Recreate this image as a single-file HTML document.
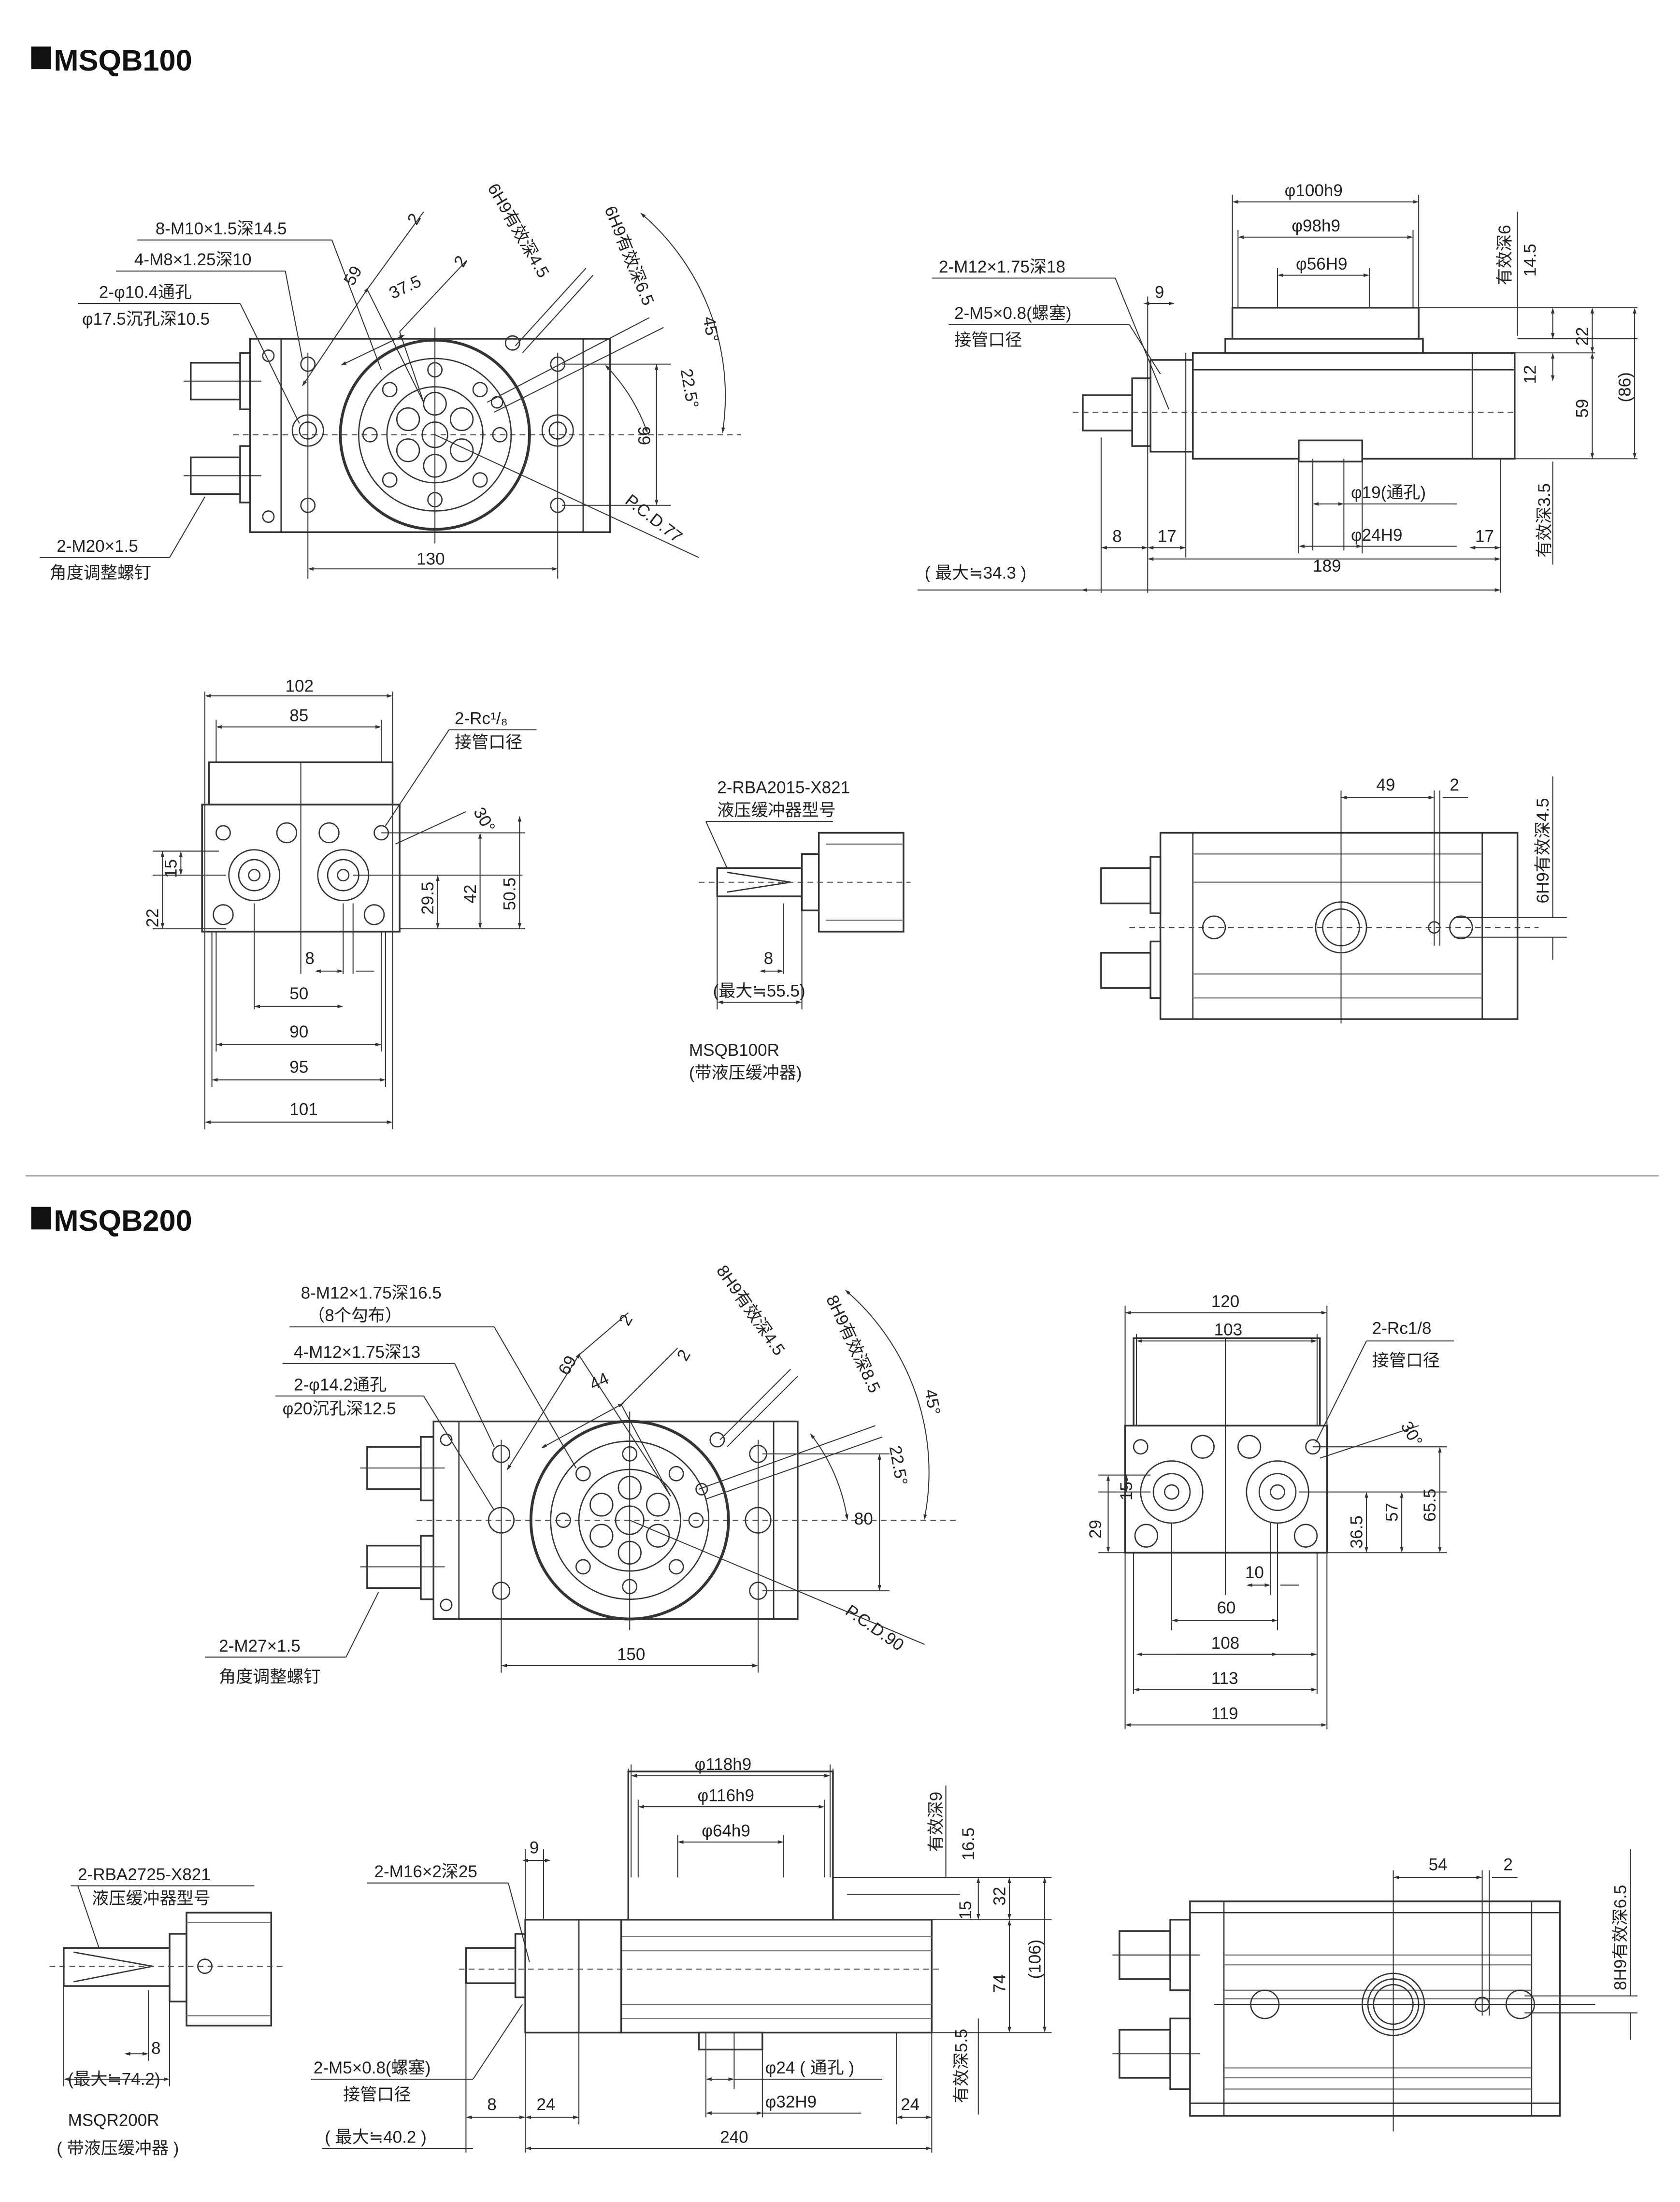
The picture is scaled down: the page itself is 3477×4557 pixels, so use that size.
<!DOCTYPE html>
<html><head><meta charset="utf-8"><style>
html,body{margin:0;padding:0;background:#fff}
svg{display:block}
text{font-family:"Liberation Sans","Noto Sans CJK SC",sans-serif;fill:#222;font-size:12px}
.t{font-size:21px;font-weight:bold;fill:#111}
.l{stroke:#333;stroke-width:0.9;fill:none}
.g{stroke:#777;stroke-width:0.8;fill:none}
.d{stroke:#333;stroke-width:0.7;fill:none;marker-start:url(#a);marker-end:url(#a)}
.e{stroke:#333;stroke-width:0.7;fill:none}
.c{stroke:#444;stroke-width:0.7;fill:none;stroke-dasharray:4 3}
.b{stroke:#333;stroke-width:1.2;fill:#fff}
</style></head><body>
<svg width="3477" height="4557" viewBox="0 0 1190 1560" xmlns="http://www.w3.org/2000/svg">
<defs><marker id="a" viewBox="0 0 10 10" refX="5" refY="5" markerWidth="6" markerHeight="6" orient="auto-start-reverse"><path d="M0,2 L10,5 L0,8 z" fill="#333"/></marker></defs>

<!-- ===== MSQB100 ===== -->
<rect x="22" y="33" width="14" height="16" fill="#111"/>
<text class="t" x="38" y="50">MSQB100</text>

<!-- front view -->
<rect class="b" x="177" y="240" width="255" height="137"/>
<line class="l" x1="199" y1="240" x2="199" y2="377"/><line class="l" x1="413" y1="240" x2="413" y2="377"/>
<rect class="b" x="135" y="257" width="35" height="26"/><rect class="b" x="170" y="250" width="7" height="40"/>
<rect class="b" x="135" y="324" width="35" height="26"/><rect class="b" x="170" y="316" width="7" height="40"/>
<line class="e" x1="130" y1="270" x2="185" y2="270"/><line class="e" x1="130" y1="337" x2="185" y2="337"/>
<circle class="l" cx="190" cy="252" r="4"/><circle class="l" cx="190" cy="366" r="4"/>
<line class="c" x1="165" y1="308" x2="525" y2="308"/>
<circle class="l" cx="308" cy="308" r="67" style="stroke-width:2"/>
<circle class="l" cx="308" cy="308" r="54"/>
<circle class="l" cx="308" cy="308" r="34"/>
<circle class="l" cx="308" cy="308" r="9"/>
<g class="l">
<circle cx="308" cy="286" r="8"/><circle cx="308" cy="330" r="8"/><circle cx="289" cy="297" r="8"/><circle cx="327" cy="297" r="8"/><circle cx="289" cy="319" r="8"/><circle cx="327" cy="319" r="8"/>
<circle cx="308" cy="262" r="5"/><circle cx="308" cy="354" r="5"/><circle cx="262" cy="308" r="5"/><circle cx="354" cy="308" r="5"/>
<circle cx="276" cy="276" r="5"/><circle cx="340" cy="276" r="5"/><circle cx="276" cy="340" r="5"/><circle cx="340" cy="340" r="5"/>
<circle cx="218" cy="258" r="5"/><circle cx="218" cy="358" r="5"/><circle cx="395" cy="258" r="5"/><circle cx="395" cy="358" r="5"/>
<circle cx="218" cy="305" r="11"/><circle cx="218" cy="305" r="6"/><circle cx="395" cy="305" r="11"/><circle cx="395" cy="305" r="6"/>
<circle cx="363" cy="243" r="5"/><circle cx="352" cy="285" r="4"/>
</g>
<line class="e" x1="218" y1="250" x2="218" y2="410"/><line class="e" x1="395" y1="250" x2="395" y2="410"/>
<line class="e" x1="308" y1="232" x2="308" y2="385"/>
<line class="d" x1="220" y1="403" x2="393" y2="403"/><text x="295" y="400">130</text>
<line class="e" x1="398" y1="258" x2="475" y2="258"/><line class="e" x1="398" y1="358" x2="475" y2="358"/>
<line class="d" x1="465" y1="260" x2="465" y2="356"/><text x="0" y="0" transform="translate(452,302) rotate(90)">99</text>
<line class="e" x1="308" y1="308" x2="495" y2="395"/><text x="0" y="0" transform="translate(442,356) rotate(38)">P.C.D.77</text>
<path class="d" d="M455,152 A170,170 0 0 1 512,305"/><text x="0" y="0" transform="translate(498,225) rotate(80)">45°</text>
<path class="d" d="M430,260 A130,130 0 0 1 458,305"/><text x="0" y="0" transform="translate(482,262) rotate(80)">22.5°</text>
<line class="e" x1="345" y1="285" x2="460" y2="225"/><line class="e" x1="350" y1="292" x2="470" y2="232"/>
<line class="e" x1="365" y1="245" x2="415" y2="190"/><line class="e" x1="370" y1="250" x2="420" y2="195"/>
<text x="0" y="0" transform="translate(345,133) rotate(60)">6H9有效深4.5</text>
<text x="0" y="0" transform="translate(428,148) rotate(68)">6H9有效深6.5</text>
<line class="d" x1="215" y1="272" x2="260" y2="205"/><text x="0" y="0" transform="translate(250,203) rotate(-60)">59</text>
<line class="d" x1="243" y1="258" x2="285" y2="238"/><text x="0" y="0" transform="translate(278,212) rotate(-25)">37.5</text>
<line class="e" x1="260" y1="205" x2="300" y2="285"/><line class="e" x1="283" y1="235" x2="300" y2="285"/>
<text x="0" y="0" transform="translate(295,160) rotate(-60)">2</text><text x="0" y="0" transform="translate(328,190) rotate(-60)">2</text>
<line class="e" x1="260" y1="205" x2="300" y2="150"/><line class="e" x1="283" y1="235" x2="330" y2="185"/>
<text x="110" y="166">8-M10×1.5深14.5</text><line class="e" x1="97" y1="170" x2="235" y2="170"/><line class="e" x1="235" y1="170" x2="270" y2="262"/>
<text x="95" y="188">4-M8×1.25深10</text><line class="e" x1="82" y1="192" x2="202" y2="192"/><line class="e" x1="202" y1="192" x2="214" y2="254"/>
<text x="70" y="211">2-φ10.4通孔</text><line class="e" x1="55" y1="215" x2="170" y2="215"/><line class="e" x1="170" y1="215" x2="212" y2="300"/>
<text x="58" y="230">φ17.5沉孔深10.5</text>
<text x="40" y="391">2-M20×1.5</text><line class="e" x1="28" y1="395" x2="120" y2="395"/><line class="e" x1="120" y1="395" x2="145" y2="352"/>
<text x="35" y="410">角度调整螺钉</text>

<!-- side view top right -->
<rect class="b" x="845" y="250" width="228" height="75"/>
<line class="l" x1="845" y1="262" x2="1073" y2="262"/><line class="l" x1="1043" y1="250" x2="1043" y2="325"/>
<rect class="b" x="873" y="218" width="132" height="22"/><rect class="b" x="868" y="240" width="140" height="10"/>
<rect class="b" x="815" y="255" width="30" height="65"/>
<rect class="b" x="767" y="280" width="35" height="25"/><rect class="b" x="802" y="268" width="13" height="48"/>
<rect class="b" x="920" y="312" width="45" height="15"/>
<line class="c" x1="760" y1="292" x2="1075" y2="292"/>
<line class="e" x1="873" y1="138" x2="873" y2="218"/><line class="e" x1="1005" y1="138" x2="1005" y2="218"/>
<line class="d" x1="875" y1="143" x2="1003" y2="143"/><text x="910" y="139">φ100h9</text>
<line class="e" x1="877" y1="163" x2="877" y2="218"/><line class="e" x1="1001" y1="163" x2="1001" y2="218"/>
<line class="d" x1="879" y1="168" x2="999" y2="168"/><text x="915" y="164">φ98h9</text>
<line class="e" x1="905" y1="190" x2="905" y2="218"/><line class="e" x1="970" y1="190" x2="970" y2="218"/>
<line class="d" x1="907" y1="195" x2="968" y2="195"/><text x="918" y="191">φ56H9</text>
<text x="665" y="193">2-M12×1.75深18</text><line class="e" x1="660" y1="197" x2="790" y2="197"/><line class="e" x1="790" y1="197" x2="828" y2="290"/>
<text x="676" y="226">2-M5×0.8(螺塞)</text><line class="e" x1="672" y1="230" x2="800" y2="230"/><line class="e" x1="800" y1="230" x2="822" y2="265"/>
<text x="676" y="245">接管口径</text>
<text x="818" y="211">9</text><line class="d" x1="812" y1="215" x2="830" y2="215"/>
<line class="e" x1="813" y1="210" x2="813" y2="420"/><line class="e" x1="840" y1="250" x2="840" y2="395"/>
<line class="e" x1="780" y1="310" x2="780" y2="420"/><line class="e" x1="1063" y1="325" x2="1063" y2="420"/>
<line class="d" x1="782" y1="388" x2="811" y2="388"/><text x="788" y="384">8</text>
<line class="d" x1="815" y1="388" x2="838" y2="388"/><text x="820" y="384">17</text>
<line class="d" x1="1043" y1="388" x2="1061" y2="388"/><text x="1045" y="384">17</text>
<line class="d" x1="815" y1="396" x2="1061" y2="396"/><text x="930" y="405">189</text>
<line class="d" x1="768" y1="418" x2="1061" y2="418"/><text x="655" y="410">( 最大≒34.3 )</text><line class="e" x1="650" y1="418" x2="770" y2="418"/>
<line class="e" x1="930" y1="325" x2="930" y2="390"/><line class="e" x1="952" y1="325" x2="952" y2="390"/>
<line class="d" x1="932" y1="357" x2="950" y2="357"/><text x="957" y="353">φ19(通孔)</text><line class="e" x1="952" y1="357" x2="1032" y2="357"/>
<line class="e" x1="920" y1="327" x2="920" y2="392"/><line class="e" x1="965" y1="327" x2="965" y2="392"/>
<line class="d" x1="922" y1="387" x2="963" y2="387"/><text x="957" y="383">φ24H9</text><line class="e" x1="963" y1="387" x2="1032" y2="387"/>
<line class="e" x1="1005" y1="218" x2="1160" y2="218"/><line class="e" x1="1075" y1="240" x2="1160" y2="240"/>
<line class="e" x1="1073" y1="250" x2="1130" y2="250"/><line class="e" x1="1073" y1="325" x2="1160" y2="325"/>
<line class="d" x1="1100" y1="220" x2="1100" y2="238"/><text x="0" y="0" transform="translate(1088,196) rotate(-90)">14.5</text>
<text x="0" y="0" transform="translate(1070,202) rotate(-90)">有效深6</text><line class="e" x1="1075" y1="150" x2="1075" y2="238"/>
<line class="d" x1="1128" y1="220" x2="1128" y2="248"/><text x="0" y="0" transform="translate(1125,245) rotate(-90)">22</text>
<line class="d" x1="1100" y1="252" x2="1100" y2="268"/><text x="0" y="0" transform="translate(1088,272) rotate(-90)">12</text>
<line class="d" x1="1128" y1="252" x2="1128" y2="323"/><text x="0" y="0" transform="translate(1125,296) rotate(-90)">59</text>
<line class="d" x1="1158" y1="220" x2="1158" y2="323"/><text x="0" y="0" transform="translate(1155,285) rotate(-90)">(86)</text>
<text x="0" y="0" transform="translate(1098,395) rotate(-90)">有效深3.5</text><line class="e" x1="1100" y1="327" x2="1100" y2="400"/>

<!-- left end view 100 -->
<rect class="b" x="148" y="540" width="130" height="30"/>
<rect class="b" x="143" y="570" width="140" height="90"/>
<line class="e" x1="145" y1="490" x2="145" y2="800"/><line class="e" x1="278" y1="490" x2="278" y2="800"/>
<line class="d" x1="147" y1="493" x2="276" y2="493"/><text x="202" y="490">102</text>
<line class="e" x1="153" y1="510" x2="153" y2="540"/><line class="e" x1="270" y1="510" x2="270" y2="540"/>
<line class="d" x1="155" y1="515" x2="268" y2="515"/><text x="205" y="511">85</text>
<g class="l"><circle cx="180" cy="620" r="18"/><circle cx="180" cy="620" r="11"/><circle cx="180" cy="620" r="4"/>
<circle cx="243" cy="620" r="18"/><circle cx="243" cy="620" r="11"/><circle cx="243" cy="620" r="4"/>
<circle cx="158" cy="590" r="5"/><circle cx="270" cy="590" r="5"/><circle cx="158" cy="648" r="7"/><circle cx="265" cy="648" r="7"/>
<circle cx="203" cy="590" r="7"/><circle cx="233" cy="590" r="7"/></g>
<line class="e" x1="213" y1="540" x2="213" y2="690"/>
<line class="e" x1="180" y1="640" x2="180" y2="715"/><line class="e" x1="243" y1="640" x2="243" y2="690"/><line class="e" x1="250" y1="640" x2="250" y2="690"/>
<line class="e" x1="153" y1="660" x2="153" y2="745"/><line class="e" x1="270" y1="660" x2="270" y2="745"/><line class="e" x1="150" y1="660" x2="150" y2="770"/><line class="e" x1="273" y1="660" x2="273" y2="770"/>
<line class="d" x1="225" y1="688" x2="241" y2="688"/><line class="e" x1="252" y1="688" x2="265" y2="688"/><text x="216" y="683">8</text>
<line class="d" x1="182" y1="713" x2="241" y2="713"/><text x="205" y="708">50</text>
<line class="d" x1="155" y1="740" x2="268" y2="740"/><text x="205" y="735">90</text>
<line class="d" x1="152" y1="765" x2="271" y2="765"/><text x="205" y="760">95</text>
<line class="d" x1="147" y1="795" x2="276" y2="795"/><text x="205" y="790">101</text>
<text x="322" y="513">2-Rc¹/₈</text><line class="e" x1="318" y1="517" x2="380" y2="517"/><line class="e" x1="318" y1="517" x2="273" y2="585"/><text x="322" y="530">接管口径</text>
<line class="e" x1="108" y1="603" x2="155" y2="603"/><line class="e" x1="108" y1="620" x2="160" y2="620"/><line class="e" x1="108" y1="658" x2="160" y2="658"/>
<line class="d" x1="128" y1="605" x2="128" y2="618"/><text x="0" y="0" transform="translate(125,622) rotate(-90)">15</text>
<line class="d" x1="115" y1="605" x2="115" y2="656"/><text x="0" y="0" transform="translate(112,657) rotate(-90)">22</text>
<line class="e" x1="250" y1="620" x2="370" y2="620"/><line class="e" x1="270" y1="590" x2="372" y2="590"/><line class="e" x1="283" y1="658" x2="372" y2="658"/>
<line class="d" x1="310" y1="622" x2="310" y2="656"/><text x="0" y="0" transform="translate(307,648) rotate(-90)">29.5</text>
<line class="d" x1="340" y1="592" x2="340" y2="656"/><text x="0" y="0" transform="translate(337,640) rotate(-90)">42</text>
<line class="d" x1="368" y1="580" x2="368" y2="656"/><text x="0" y="0" transform="translate(365,645) rotate(-90)">50.5</text>
<line class="e" x1="280" y1="598" x2="330" y2="575"/><text x="0" y="0" transform="translate(335,575) rotate(60)">30°</text>

<!-- RBA view 100 -->
<text x="508" y="562">2-RBA2015-X821</text><text x="508" y="578">液压缓冲器型号</text>
<line class="e" x1="500" y1="582" x2="590" y2="582"/><line class="e" x1="500" y1="582" x2="515" y2="615"/>
<rect class="b" x="508" y="615" width="60" height="20"/><path class="l" d="M515,618 L560,625 L515,632"/>
<rect class="b" x="568" y="605" width="12" height="40"/><rect class="b" x="580" y="590" width="60" height="70"/>
<line class="g" x1="585" y1="598" x2="640" y2="598"/><line class="g" x1="585" y1="652" x2="640" y2="652"/>
<line class="c" x1="495" y1="625" x2="645" y2="625"/>
<line class="e" x1="508" y1="635" x2="508" y2="715"/><line class="e" x1="568" y1="645" x2="568" y2="715"/><line class="e" x1="555" y1="640" x2="555" y2="690"/>
<line class="d" x1="540" y1="688" x2="553" y2="688"/><text x="541" y="683">8</text>
<line class="d" x1="510" y1="710" x2="566" y2="710"/><text x="505" y="706">(最大≒55.5)</text>
<text x="488" y="748">MSQB100R</text><text x="488" y="764">(带液压缓冲器)</text>

<!-- bottom view 100 -->
<rect class="b" x="822" y="590" width="253" height="132"/>
<line class="l" x1="845" y1="590" x2="845" y2="722"/><line class="l" x1="1050" y1="590" x2="1050" y2="722"/>
<g class="g"><line x1="845" y1="605" x2="1050" y2="605"/><line x1="845" y1="625" x2="1050" y2="625"/><line x1="845" y1="690" x2="1050" y2="690"/><line x1="845" y1="707" x2="1050" y2="707"/></g>
<rect class="b" x="780" y="615" width="35" height="25"/><rect class="b" x="815" y="607" width="7" height="40"/>
<rect class="b" x="780" y="675" width="35" height="25"/><rect class="b" x="815" y="667" width="7" height="40"/>
<line class="c" x1="800" y1="657" x2="1090" y2="657"/>
<g class="l"><circle cx="950" cy="657" r="18"/><circle cx="950" cy="657" r="13"/><circle cx="860" cy="657" r="8"/><circle cx="1035" cy="657" r="8"/><circle cx="1016" cy="657" r="4"/></g>
<line class="e" x1="950" y1="560" x2="950" y2="725"/><line class="e" x1="1016" y1="560" x2="1016" y2="670"/><line class="e" x1="1020" y1="560" x2="1020" y2="670"/>
<line class="d" x1="952" y1="565" x2="1014" y2="565"/><text x="975" y="560">49</text><line class="e" x1="1022" y1="565" x2="1040" y2="565"/><text x="1027" y="560">2</text>
<line class="e" x1="1030" y1="650" x2="1110" y2="650"/><line class="e" x1="1030" y1="664" x2="1110" y2="664"/>
<line class="e" x1="1100" y1="550" x2="1100" y2="650"/><line class="e" x1="1100" y1="664" x2="1100" y2="680"/>
<text x="0" y="0" transform="translate(1097,640) rotate(-90)">6H9有效深4.5</text>

<line x1="18" y1="833" x2="1175" y2="833" stroke="#aaa" stroke-width="1"/>

<!-- ===== MSQB200 ===== -->
<rect x="22" y="855" width="14" height="16" fill="#111"/>
<text class="t" x="38" y="872">MSQB200</text>

<rect class="b" x="307" y="1007" width="258" height="140"/>
<line class="l" x1="325" y1="1007" x2="325" y2="1147"/><line class="l" x1="548" y1="1007" x2="548" y2="1147"/>
<rect class="b" x="260" y="1025" width="38" height="30"/><rect class="b" x="298" y="1018" width="9" height="45"/>
<rect class="b" x="260" y="1095" width="38" height="30"/><rect class="b" x="298" y="1088" width="9" height="45"/>
<line class="e" x1="255" y1="1040" x2="315" y2="1040"/><line class="e" x1="255" y1="1110" x2="315" y2="1110"/>
<circle class="l" cx="316" cy="1020" r="4"/><circle class="l" cx="316" cy="1137" r="4"/>
<line class="c" x1="295" y1="1077" x2="680" y2="1077"/>
<circle class="l" cx="446" cy="1077" r="70" style="stroke-width:2"/>
<circle class="l" cx="446" cy="1077" r="56"/><circle class="l" cx="446" cy="1077" r="36"/><circle class="l" cx="446" cy="1077" r="10"/>
<g class="l">
<circle cx="446" cy="1054" r="8"/><circle cx="446" cy="1100" r="8"/><circle cx="426" cy="1066" r="8"/><circle cx="466" cy="1066" r="8"/><circle cx="426" cy="1088" r="8"/><circle cx="466" cy="1088" r="8"/>
<circle cx="446" cy="1030" r="5"/><circle cx="446" cy="1124" r="5"/><circle cx="399" cy="1077" r="5"/><circle cx="493" cy="1077" r="5"/>
<circle cx="413" cy="1044" r="5"/><circle cx="479" cy="1044" r="5"/><circle cx="413" cy="1110" r="5"/><circle cx="479" cy="1110" r="5"/>
<circle cx="355" cy="1030" r="6"/><circle cx="355" cy="1127" r="6"/><circle cx="537" cy="1030" r="6"/><circle cx="537" cy="1127" r="6"/>
<circle cx="355" cy="1077" r="9"/><circle cx="537" cy="1077" r="9"/><circle cx="508" cy="1020" r="5"/><circle cx="497" cy="1055" r="4"/>
</g>
<line class="e" x1="355" y1="1020" x2="355" y2="1185"/><line class="e" x1="537" y1="1020" x2="537" y2="1185"/><line class="e" x1="446" y1="1000" x2="446" y2="1155"/>
<line class="d" x1="357" y1="1180" x2="535" y2="1180"/><text x="437" y="1176">150</text>
<line class="e" x1="540" y1="1030" x2="630" y2="1030"/><line class="e" x1="540" y1="1127" x2="630" y2="1127"/>
<line class="d" x1="623" y1="1032" x2="623" y2="1125"/><text x="605" y="1080">80</text>
<line class="e" x1="446" y1="1077" x2="655" y2="1165"/><text x="0" y="0" transform="translate(598,1143) rotate(35)">P.C.D.90</text>
<path class="d" d="M600,915 A170,170 0 0 1 655,1075"/><text x="0" y="0" transform="translate(655,985) rotate(80)">45°</text>
<path class="d" d="M575,1017 A130,130 0 0 1 600,1075"/><text x="0" y="0" transform="translate(630,1025) rotate(80)">22.5°</text>
<line class="e" x1="495" y1="1055" x2="620" y2="1010"/><line class="e" x1="500" y1="1062" x2="625" y2="1018"/>
<line class="e" x1="510" y1="1020" x2="560" y2="970"/><line class="e" x1="515" y1="1025" x2="565" y2="975"/>
<text x="0" y="0" transform="translate(507,900) rotate(55)">8H9有效深4.5</text>
<text x="0" y="0" transform="translate(585,920) rotate(65)">8H9有效深8.5</text>
<line class="d" x1="360" y1="1040" x2="410" y2="960"/><text x="0" y="0" transform="translate(402,975) rotate(-60)">69</text>
<line class="d" x1="385" y1="1025" x2="440" y2="995"/><text x="0" y="0" transform="translate(420,985) rotate(-25)">44</text>
<line class="e" x1="410" y1="960" x2="475" y2="1060"/><line class="e" x1="440" y1="995" x2="475" y2="1060"/>
<line class="e" x1="410" y1="960" x2="445" y2="930"/><line class="e" x1="440" y1="995" x2="480" y2="955"/>
<text x="0" y="0" transform="translate(445,940) rotate(-60)">2</text><text x="0" y="0" transform="translate(486,965) rotate(-60)">2</text>
<text x="213" y="920">8-M12×1.75深16.5</text><text x="218" y="936">（8个勾布）</text><line class="e" x1="205" y1="940" x2="350" y2="940"/><line class="e" x1="350" y1="940" x2="408" y2="1040"/>
<text x="208" y="962">4-M12×1.75深13</text><line class="e" x1="200" y1="966" x2="322" y2="966"/><line class="e" x1="322" y1="966" x2="350" y2="1025"/>
<text x="208" y="985">2-φ14.2通孔</text><line class="e" x1="195" y1="989" x2="300" y2="989"/><line class="e" x1="300" y1="989" x2="350" y2="1070"/>
<text x="200" y="1002">φ20沉孔深12.5</text>
<text x="155" y="1170">2-M27×1.5</text><line class="e" x1="145" y1="1174" x2="245" y2="1174"/><line class="e" x1="245" y1="1174" x2="268" y2="1128"/>
<text x="155" y="1192">角度调整螺钉</text>

<!-- end view 200 -->
<rect class="b" x="803" y="948" width="132" height="62"/><rect class="b" x="797" y="1010" width="143" height="90"/>
<line class="e" x1="797" y1="925" x2="797" y2="1225"/><line class="e" x1="940" y1="925" x2="940" y2="1225"/>
<line class="d" x1="799" y1="930" x2="938" y2="930"/><text x="858" y="926">120</text>
<line class="e" x1="805" y1="945" x2="805" y2="1010"/><line class="e" x1="933" y1="945" x2="933" y2="1010"/>
<line class="d" x1="807" y1="950" x2="931" y2="950"/><text x="860" y="946">103</text>
<g class="l"><circle cx="830" cy="1057" r="22"/><circle cx="830" cy="1057" r="13"/><circle cx="830" cy="1057" r="5"/>
<circle cx="905" cy="1057" r="22"/><circle cx="905" cy="1057" r="13"/><circle cx="905" cy="1057" r="5"/>
<circle cx="808" cy="1025" r="5"/><circle cx="930" cy="1025" r="5"/><circle cx="812" cy="1088" r="8"/><circle cx="925" cy="1088" r="8"/>
<circle cx="852" cy="1025" r="8"/><circle cx="885" cy="1025" r="8"/></g>
<line class="e" x1="868" y1="948" x2="868" y2="1130"/>
<line class="e" x1="830" y1="1079" x2="830" y2="1155"/><line class="e" x1="900" y1="1079" x2="900" y2="1130"/><line class="e" x1="905" y1="1079" x2="905" y2="1155"/>
<line class="d" x1="885" y1="1123" x2="898" y2="1123"/><line class="e" x1="907" y1="1123" x2="920" y2="1123"/><text x="882" y="1118">10</text>
<line class="d" x1="832" y1="1148" x2="903" y2="1148"/><text x="862" y="1143">60</text>
<line class="e" x1="803" y1="1100" x2="803" y2="1200"/><line class="e" x1="933" y1="1100" x2="933" y2="1200"/>
<line class="d" x1="833" y1="1172" x2="903" y2="1172" style="marker-start:none"/><line class="d" x1="807" y1="1172" x2="931" y2="1172"/><text x="858" y="1168">108</text>
<line class="d" x1="805" y1="1197" x2="931" y2="1197"/><text x="858" y="1193">113</text>
<line class="d" x1="799" y1="1222" x2="938" y2="1222"/><text x="858" y="1218">119</text>
<text x="972" y="945">2-Rc1/8</text><text x="972" y="968">接管口径</text><line class="e" x1="968" y1="950" x2="1030" y2="950"/><line class="e" x1="968" y1="950" x2="932" y2="1022"/>
<line class="e" x1="935" y1="1033" x2="1005" y2="1010"/><text x="0" y="0" transform="translate(992,1010) rotate(60)">30°</text>
<line class="e" x1="778" y1="1045" x2="815" y2="1045"/><line class="e" x1="778" y1="1057" x2="815" y2="1057"/><line class="e" x1="778" y1="1100" x2="800" y2="1100"/>
<line class="d" x1="798" y1="1047" x2="798" y2="1055"/><text x="0" y="0" transform="translate(802,1063) rotate(-90)">15</text>
<line class="d" x1="785" y1="1047" x2="785" y2="1098"/><text x="0" y="0" transform="translate(780,1090) rotate(-90)">29</text>
<line class="e" x1="920" y1="1057" x2="1025" y2="1057"/><line class="e" x1="930" y1="1025" x2="1025" y2="1025"/><line class="e" x1="940" y1="1100" x2="1025" y2="1100"/>
<line class="d" x1="968" y1="1059" x2="968" y2="1098"/><text x="0" y="0" transform="translate(965,1097) rotate(-90)">36.5</text>
<line class="d" x1="993" y1="1059" x2="993" y2="1098"/><text x="0" y="0" transform="translate(990,1078) rotate(-90)">57</text>
<line class="d" x1="1020" y1="1027" x2="1020" y2="1098"/><text x="0" y="0" transform="translate(1017,1078) rotate(-90)">65.5</text>

<!-- RBA view 200 -->
<text x="55" y="1332">2-RBA2725-X821</text><text x="65" y="1349">液压缓冲器型号</text>
<line class="e" x1="50" y1="1336" x2="180" y2="1336"/><line class="e" x1="55" y1="1336" x2="70" y2="1380"/>
<rect class="b" x="45" y="1380" width="75" height="27"/><path class="l" d="M52,1383 L108,1393 L52,1404"/>
<rect class="b" x="120" y="1370" width="12" height="48"/><rect class="b" x="132" y="1355" width="60" height="80"/>
<line class="g" x1="132" y1="1362" x2="192" y2="1362"/><line class="g" x1="132" y1="1428" x2="192" y2="1428"/><circle class="l" cx="145" cy="1393" r="5"/>
<line class="c" x1="35" y1="1393" x2="200" y2="1393"/>
<line class="e" x1="45" y1="1407" x2="45" y2="1478"/><line class="e" x1="120" y1="1418" x2="120" y2="1478"/><line class="e" x1="105" y1="1410" x2="105" y2="1460"/>
<line class="d" x1="90" y1="1455" x2="103" y2="1455"/><text x="107" y="1455">8</text>
<line class="d" x1="47" y1="1473" x2="118" y2="1473"/><text x="48" y="1477">(最大≒74.2)</text>
<text x="48" y="1506">MSQR200R</text><text x="40" y="1526">( 带液压缓冲器 )</text>

<!-- side view 200 -->
<rect class="b" x="445" y="1255" width="145" height="105"/>
<rect class="b" x="440" y="1360" width="220" height="80"/>
<g class="g"><line x1="440" y1="1372" x2="660" y2="1372"/><line x1="440" y1="1382" x2="660" y2="1382"/><line x1="440" y1="1420" x2="660" y2="1420"/><line x1="440" y1="1430" x2="660" y2="1430"/></g>
<rect class="b" x="372" y="1360" width="68" height="80"/><line class="l" x1="410" y1="1360" x2="410" y2="1440"/>
<rect class="b" x="330" y="1380" width="35" height="25"/><rect class="b" x="365" y="1370" width="7" height="45"/>
<rect class="b" x="495" y="1440" width="45" height="12"/>
<line class="c" x1="325" y1="1395" x2="665" y2="1395"/>
<line class="e" x1="445" y1="1253" x2="445" y2="1260"/><line class="e" x1="590" y1="1253" x2="590" y2="1260"/>
<line class="e" x1="447" y1="1250" x2="447" y2="1330"/><line class="e" x1="588" y1="1250" x2="588" y2="1330"/>
<line class="d" x1="449" y1="1258" x2="586" y2="1258"/><text x="492" y="1254">φ118h9</text>
<line class="e" x1="452" y1="1275" x2="452" y2="1330"/><line class="e" x1="584" y1="1275" x2="584" y2="1330"/>
<line class="d" x1="454" y1="1280" x2="582" y2="1280"/><text x="494" y="1276">φ116h9</text>
<line class="e" x1="480" y1="1300" x2="480" y2="1330"/><line class="e" x1="555" y1="1300" x2="555" y2="1330"/>
<line class="d" x1="482" y1="1305" x2="553" y2="1305"/><text x="497" y="1301">φ64h9</text>
<line class="e" x1="590" y1="1330" x2="745" y2="1330"/><line class="e" x1="600" y1="1342" x2="680" y2="1342"/><line class="e" x1="660" y1="1360" x2="745" y2="1360"/><line class="e" x1="660" y1="1440" x2="745" y2="1440"/>
<text x="0" y="0" transform="translate(667,1312) rotate(-90)">有效深9</text><line class="e" x1="670" y1="1265" x2="670" y2="1330"/>
<line class="d" x1="693" y1="1332" x2="693" y2="1358"/><text x="0" y="0" transform="translate(690,1318) rotate(-90)">16.5</text>
<text x="0" y="0" transform="translate(688,1360) rotate(-90)">15</text>
<line class="d" x1="715" y1="1332" x2="715" y2="1358"/><text x="0" y="0" transform="translate(712,1350) rotate(-90)">32</text>
<line class="d" x1="715" y1="1362" x2="715" y2="1438"/><text x="0" y="0" transform="translate(712,1412) rotate(-90)">74</text>
<line class="d" x1="740" y1="1332" x2="740" y2="1438"/><text x="0" y="0" transform="translate(737,1402) rotate(-90)">(106)</text>
<text x="0" y="0" transform="translate(685,1490) rotate(-90)">有效深5.5</text><line class="e" x1="693" y1="1430" x2="693" y2="1498"/>
<line class="e" x1="500" y1="1440" x2="500" y2="1500"/><line class="e" x1="520" y1="1440" x2="520" y2="1480"/><line class="e" x1="540" y1="1440" x2="540" y2="1500"/>
<line class="d" x1="502" y1="1473" x2="518" y2="1473"/><line class="e" x1="520" y1="1473" x2="625" y2="1473"/><text x="542" y="1469">φ24 ( 通孔 )</text>
<line class="d" x1="502" y1="1497" x2="538" y2="1497"/><line class="e" x1="540" y1="1497" x2="610" y2="1497"/><text x="542" y="1493">φ32H9</text>
<text x="265" y="1330">2-M16×2深25</text><line class="e" x1="260" y1="1334" x2="360" y2="1334"/><line class="e" x1="360" y1="1334" x2="375" y2="1390"/>
<text x="375" y="1313">9</text><line class="d" x1="372" y1="1318" x2="388" y2="1318"/><line class="e" x1="372" y1="1310" x2="372" y2="1525"/><line class="e" x1="385" y1="1310" x2="385" y2="1360"/>
<text x="222" y="1469">2-M5×0.8(螺塞)</text><text x="243" y="1488">接管口径</text><line class="e" x1="220" y1="1473" x2="335" y2="1473"/><line class="e" x1="335" y1="1473" x2="370" y2="1420"/>
<line class="e" x1="330" y1="1405" x2="330" y2="1525"/><line class="e" x1="410" y1="1440" x2="410" y2="1505"/><line class="e" x1="660" y1="1440" x2="660" y2="1525"/><line class="e" x1="635" y1="1440" x2="635" y2="1505"/>
<line class="d" x1="332" y1="1500" x2="370" y2="1500"/><text x="345" y="1495">8</text>
<line class="d" x1="374" y1="1500" x2="408" y2="1500"/><text x="380" y="1495">24</text>
<line class="d" x1="637" y1="1500" x2="658" y2="1500"/><text x="638" y="1495">24</text>
<line class="d" x1="374" y1="1522" x2="658" y2="1522"/><text x="510" y="1518">240</text>
<line class="e" x1="228" y1="1522" x2="335" y2="1522"/><text x="230" y="1518">( 最大≒40.2 )</text>

<!-- bottom view 200 -->
<rect class="b" x="843" y="1347" width="262" height="152"/>
<line class="l" x1="843" y1="1355" x2="1105" y2="1355"/><line class="l" x1="843" y1="1490" x2="1105" y2="1490"/>
<line class="l" x1="867" y1="1347" x2="867" y2="1499"/><line class="l" x1="1085" y1="1347" x2="1085" y2="1499"/>
<g class="g"><line x1="867" y1="1385" x2="1085" y2="1385"/><line x1="867" y1="1392" x2="1085" y2="1392"/><line x1="867" y1="1410" x2="1085" y2="1410"/><line x1="867" y1="1416" x2="1085" y2="1416"/>
<line x1="867" y1="1465" x2="1085" y2="1465"/><line x1="867" y1="1472" x2="1085" y2="1472"/><line x1="867" y1="1480" x2="1085" y2="1480"/></g>
<rect class="b" x="793" y="1368" width="36" height="34"/><rect class="b" x="829" y="1360" width="14" height="50"/>
<rect class="b" x="793" y="1438" width="36" height="34"/><rect class="b" x="829" y="1430" width="14" height="50"/>
<line class="e" x1="788" y1="1385" x2="850" y2="1385"/><line class="e" x1="788" y1="1455" x2="850" y2="1455"/>
<line class="e" x1="860" y1="1420" x2="1130" y2="1420"/>
<g class="l"><circle cx="987" cy="1420" r="22"/><circle cx="987" cy="1420" r="18"/><circle cx="987" cy="1420" r="14"/>
<circle cx="896" cy="1420" r="10"/><circle cx="1077" cy="1420" r="10"/><circle cx="1050" cy="1420" r="5"/></g>
<line class="e" x1="987" y1="1325" x2="987" y2="1510"/><line class="e" x1="1050" y1="1325" x2="1050" y2="1428"/><line class="e" x1="1055" y1="1325" x2="1055" y2="1428"/>
<line class="d" x1="989" y1="1330" x2="1048" y2="1330"/><text x="1012" y="1325">54</text><line class="e" x1="1057" y1="1330" x2="1075" y2="1330"/><text x="1065" y="1325">2</text>
<line class="e" x1="1080" y1="1414" x2="1160" y2="1414"/><line class="e" x1="1080" y1="1426" x2="1160" y2="1426"/>
<line class="e" x1="1155" y1="1310" x2="1155" y2="1414"/><line class="e" x1="1155" y1="1426" x2="1155" y2="1445"/>
<text x="0" y="0" transform="translate(1152,1410) rotate(-90)">8H9有效深6.5</text>
</svg>
</body></html>
